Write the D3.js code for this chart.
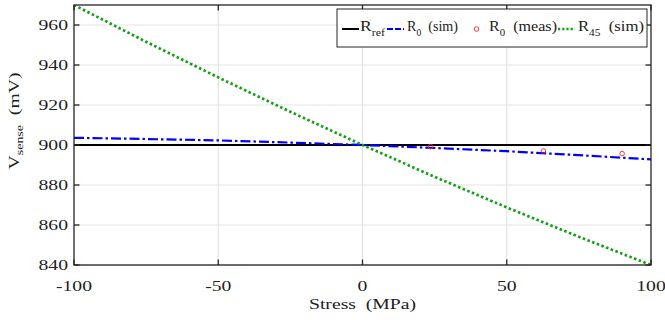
<!DOCTYPE html>
<html><head><meta charset="utf-8">
<script src="https://cdn.jsdelivr.net/npm/d3@7"></script>
<style>
html,body{margin:0;padding:0;background:#fff;}
text{font-family:"Liberation Serif","Times New Roman",serif;fill:#222;}
</style></head>
<body><svg id="c" width="665" height="320"></svg>
<script>
// ---- data ----
const stress = [-100, -75, -50, -25, 0, 25, 50, 75, 100];
const vRef   = [900, 900, 900, 900, 900, 900, 900, 900, 900];
const vR0Sim = [903.6, 903.0, 902.3, 901.2, 900.0, 898.5, 896.9, 894.9, 892.8];
const vR45Sim= [970.0, 951.6, 933.8, 916.6, 900.0, 884.1, 868.8, 854.1, 840.0];
const measStress = [23.6, 62.7, 90.0];
const vR0Meas    = [899.2, 897.0, 895.7];
const xTicks = [-100, -50, 0, 50, 100];
const yTicks = [840, 860, 880, 900, 920, 940, 960];
const legendLabels = [
  {main: 'R', sub: 'ref', rest: ''},
  {main: 'R', sub: '0', rest: '\u2002(sim)'},
  {main: 'R', sub: '0', rest: '\u2002(meas)'},
  {main: 'R', sub: '45', rest: '\u2002(sim)'}
];

const W = 665, H = 320;
const m = {l: 74, r: 14, t: 5, b: 55};
const svg = d3.select('#c');
const x = d3.scaleLinear().domain([-100, 100]).range([m.l, W - m.r]);
const y = d3.scaleLinear().domain([840, 970]).range([H - m.b, m.t]);
const axisCol = '#262626';
const SX = 1.27; // horizontal stretch of tick/axis text

// grid
svg.append('g').selectAll('line').data(xTicks.slice(1, -1)).join('line')
  .attr('x1', d => x(d)).attr('x2', d => x(d)).attr('y1', y(970)).attr('y2', y(840))
  .attr('stroke', '#e3e3e3').attr('stroke-width', 1.2);
svg.append('g').selectAll('line').data(yTicks).join('line')
  .attr('x1', x(-100)).attr('x2', x(100)).attr('y1', d => y(d)).attr('y2', d => y(d))
  .attr('stroke', '#e3e3e3').attr('stroke-width', 1.2);

// clip
svg.append('clipPath').attr('id', 'clip').append('rect')
  .attr('x', x(-100)).attr('y', y(970)).attr('width', x(100) - x(-100)).attr('height', y(840) - y(970));

const line = d3.line().x(d => x(d[0])).y(d => y(d[1]));
const plot = svg.append('g').attr('clip-path', 'url(#clip)');
plot.append('path').datum(stress.map((s, i) => [s, vRef[i]])).attr('d', line)
  .attr('fill', 'none').attr('stroke', '#000').attr('stroke-width', 2);
plot.append('path').datum(stress.map((s, i) => [s, vR0Sim[i]])).attr('d', line)
  .attr('fill', 'none').attr('stroke', '#0000ff').attr('stroke-width', 2.2)
  .attr('stroke-dasharray', '10,3,2.5,3');
plot.selectAll('circle').data(measStress.map((s, i) => [s, vR0Meas[i]])).join('circle')
  .attr('cx', d => x(d[0])).attr('cy', d => y(d[1])).attr('r', 2.3)
  .attr('fill', 'none').attr('stroke', '#ff2020').attr('stroke-width', 0.9);
plot.append('path').datum(stress.map((s, i) => [s, vR45Sim[i]])).attr('d', line)
  .attr('fill', 'none').attr('stroke', '#11a011').attr('stroke-width', 2.7)
  .attr('stroke-dasharray', '2.5,2.5');

// axes box + inward ticks
const tl = 5.5;
const ax = svg.append('g').attr('stroke', axisCol).attr('stroke-width', 1.3);
xTicks.forEach(t => {
  ax.append('line').attr('x1', x(t)).attr('x2', x(t)).attr('y1', y(840)).attr('y2', y(840) - tl);
  ax.append('line').attr('x1', x(t)).attr('x2', x(t)).attr('y1', y(970)).attr('y2', y(970) + tl);
});
yTicks.forEach(t => {
  ax.append('line').attr('x1', x(-100)).attr('x2', x(-100) + tl).attr('y1', y(t)).attr('y2', y(t));
  ax.append('line').attr('x1', x(100)).attr('x2', x(100) - tl).attr('y1', y(t)).attr('y2', y(t));
});
ax.append('rect').attr('x', x(-100)).attr('y', y(970)).attr('width', x(100) - x(-100))
  .attr('height', y(840) - y(970)).attr('fill', 'none');

function stretched(g, tx, ty, anchor, txt, fs) {
  return g.append('text').attr('transform', `translate(${tx},${ty}) scale(${SX},1)`)
    .attr('text-anchor', anchor).attr('font-size', fs).text(txt);
}
const lab = svg.append('g');
xTicks.forEach(t => stretched(lab, x(t), 291, 'middle', t, 15.5));
yTicks.forEach(t => stretched(lab, x(-100) - 6, y(t) + 5.3, 'end', t, 15.5));

// x label
stretched(lab, x(0), 309, 'middle', 'Stress\u2002(MPa)', 15.5);
// y label
const yl = svg.append('text').attr('transform', `translate(19,${(y(840) + y(970)) / 2 - 14}) rotate(-90) scale(${SX},1)`)
  .attr('text-anchor', 'middle').attr('font-size', 15.5);
yl.append('tspan').text('V');
yl.append('tspan').attr('dy', 4).attr('font-size', 11).text('sense');
yl.append('tspan').attr('dy', -4).text('\u2002(mV)');

// legend
const lg = svg.append('g');
const lx0 = 337, ly0 = 9, lyLine = 29, lh = 38, lx1 = 647;
lg.append('rect').attr('x', lx0).attr('y', ly0).attr('height', lh).attr('width', lx1 - lx0)
  .attr('fill', '#fff').attr('stroke', axisCol).attr('stroke-width', 1);
const sampleX = [342, 387, 468, 558];
const textX = [360, 407, 489, 578];
const textW = [25, 51, 68, 66];
const styles = [
  {type: 'line', col: '#000', dash: null, sw: 2},
  {type: 'line', col: '#0000ff', dash: '6,2', sw: 2.2},
  {type: 'marker', col: '#ff2020'},
  {type: 'line', col: '#11a011', dash: '2.2,2', sw: 2.7}
];
legendLabels.forEach((it, i) => {
  const st = styles[i], sl = 17;
  if (st.type === 'line') {
    lg.append('line').attr('x1', sampleX[i]).attr('x2', sampleX[i] + sl).attr('y1', lyLine).attr('y2', lyLine)
      .attr('stroke', st.col).attr('stroke-width', st.sw).attr('stroke-dasharray', st.dash);
  } else {
    lg.append('circle').attr('cx', sampleX[i] + sl / 2).attr('cy', lyLine).attr('r', 2.3)
      .attr('fill', 'none').attr('stroke', st.col).attr('stroke-width', 0.9);
  }
  const t = lg.append('text').attr('x', textX[i]).attr('y', 30.7).attr('font-size', 15.5);
  t.append('tspan').text(it.main);
  t.append('tspan').attr('dy', 5).attr('font-size', 10.5).text(it.sub);
  t.append('tspan').attr('dy', -5).text(it.rest);
  t.attr('textLength', textW[i]).attr('lengthAdjust', 'spacingAndGlyphs');
});
</script></body></html>
